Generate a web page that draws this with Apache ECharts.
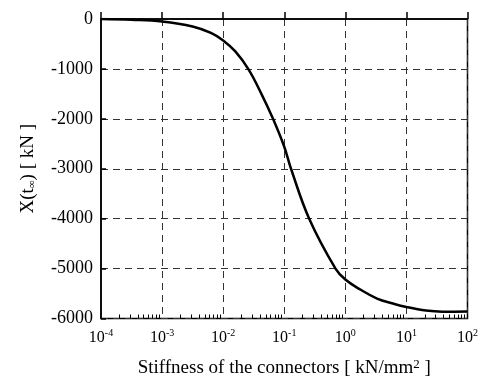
<!DOCTYPE html>
<html><head><meta charset="utf-8">
<script src="https://cdn.jsdelivr.net/npm/echarts@6/dist/echarts.min.js"></script>
<style>html,body{margin:0;padding:0;background:#fff}#c{width:481px;height:383px}</style>
</head><body><div id="c"></div>
<script>
// Stiffness of the connectors [kN/mm2]
const stiffness = [0.0001, 0.000316, 0.001, 0.00316, 0.0063, 0.01, 0.0158, 0.0257, 0.0413, 0.0655, 0.1, 0.129, 0.256, 0.69, 1, 1.76, 3.31, 6.03, 10, 20.9, 38.9, 100];
// X(t_inf) [kN]
const force = [0, -15, -50, -150, -280, -430, -650, -1000, -1474, -2000, -2560, -3000, -4000, -5000, -5220, -5420, -5600, -5700, -5770, -5842, -5865, -5860];
const xExponents = [-4, -3, -2, -1, 0, 1, 2];
const yTicks = [0, -1000, -2000, -3000, -4000, -5000, -6000];

const minorTicks = [];
for (let i = 0; i < xExponents.length - 1; i++) {
  for (let k = 2; k <= 9; k++) minorTicks.push(k * Math.pow(10, xExponents[i]));
}
const majorTicks = xExponents.map(e => Math.pow(10, e));

const serif = '"Liberation Serif", "Times New Roman", serif';
const chart = echarts.init(document.getElementById('c'), null, {renderer: 'canvas'});
chart.setOption({
  backgroundColor: '#fff',
  animation: false,
  grid: {left: 101, right: 9, top: 19, bottom: 61, show: true, borderColor: '#000', borderWidth: 1.5, backgroundColor: 'transparent'},
  xAxis: [{
    type: 'log', logBase: 10,
    min: majorTicks[0], max: majorTicks[majorTicks.length - 1],
    name: 'Stiffness of the connectors [ kN/mm{s|2} ]',
    nameLocation: 'middle', nameGap: 40,
    nameTextStyle: {fontFamily: serif, fontSize: 19, color: '#000', rich: {s: {fontFamily: serif, fontSize: 13, verticalAlign: 'top', padding: [0, 0, 7, 0], color: '#000'}}},
    axisLine: {show: true, lineStyle: {color: '#000', width: 1.5}},
    axisTick: {show: true, inside: true, length: 7, lineStyle: {color: '#000', width: 1.5}},
    splitLine: {show: true, lineStyle: {color: '#333', type: [7, 5], width: 1}},
    axisLabel: {
      margin: 10, color: '#000', fontFamily: serif, fontSize: 16,
      formatter: v => '{b|10}{s|' + Math.round(Math.log10(v)) + '}',
      rich: {b: {fontFamily: serif, fontSize: 16, color: '#000'}, s: {fontFamily: serif, fontSize: 10, color: '#000', verticalAlign: 'top', padding: [0, 0, 8, 0]}}
    }
  }, {
    type: 'log', logBase: 10, position: 'bottom', gridIndex: 0,
    min: majorTicks[0], max: majorTicks[majorTicks.length - 1],
    axisLine: {show: false},
    axisLabel: {show: false},
    splitLine: {show: false},
    axisTick: {show: true, inside: true, length: 4, customValues: minorTicks, lineStyle: {color: '#000', width: 1}}
  }],
  yAxis: {
    type: 'value', min: yTicks[yTicks.length - 1], max: yTicks[0], interval: 1000,
    name: 'X(t{s|∞}) [ kN ]',
    nameLocation: 'middle', nameGap: 63, nameRotate: 90,
    nameTextStyle: {fontFamily: serif, fontSize: 19, color: '#000', rich: {s: {fontFamily: serif, fontSize: 11, color: '#000', verticalAlign: 'bottom', padding: [7, 0, 0, 0]}}},
    axisLine: {show: true, lineStyle: {color: '#000', width: 1.5}},
    axisTick: {show: true, inside: true, length: 5, lineStyle: {color: '#000', width: 1.5}},
    splitLine: {show: true, lineStyle: {color: '#333', type: [7, 5], width: 1}},
    axisLabel: {margin: 8, color: '#000', fontFamily: serif, fontSize: 18, verticalAlign: 'middle', padding: [0, 0, 4, 0], formatter: v => String(v)}
  },
  series: [{
    type: 'line', xAxisIndex: 0,
    data: stiffness.map((s, i) => [s, force[i]]),
    smooth: 0.4, symbol: 'none',
    lineStyle: {color: '#000', width: 2.5}
  }]
});
</script></body></html>
